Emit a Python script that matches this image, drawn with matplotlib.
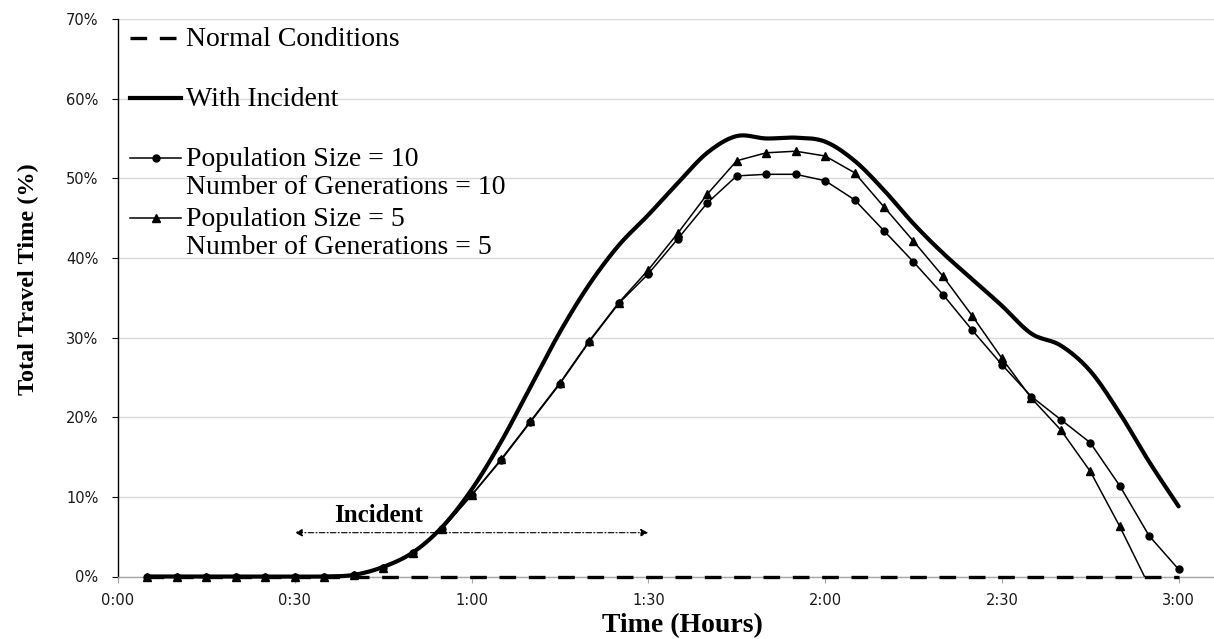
import numpy as np
import matplotlib
matplotlib.use("Agg")
import matplotlib.pyplot as plt
from matplotlib.lines import Line2D

# ---------------- data ----------------
minutes = list(range(5, 181, 5))  # 0:05 ... 3:00

normal = [0.0] * len(minutes)

with_incident = [0, 0, 0, 0, 0, 0, 0,
                 0.2, 1.2, 3.0, 6.2, 10.9, 16.9, 23.8, 30.7, 36.7, 41.6,
                 45.4, 49.4, 53.2, 55.3, 55.0, 55.1, 54.6, 52.2, 48.5,
                 44.3, 40.6, 37.3, 34.0, 30.5, 29.0, 25.8, 20.5, 14.4, 8.8]

pop10 = [0, 0, 0, 0, 0, 0, 0,
         0.2, 1.1, 2.9, 6.0, 10.2, 14.6, 19.4, 24.2, 29.5, 34.3,
         38.0, 42.4, 46.9, 50.3, 50.5, 50.5, 49.7, 47.3, 43.4,
         39.5, 35.4, 30.9, 26.6, 22.6, 19.7, 16.8, 11.4, 5.1, 0.9]

minutes_pop5 = list(range(5, 176, 5))  # 0:05 ... 2:55
pop5 = [0, 0, 0, 0, 0, 0, 0,
        0.2, 1.1, 2.9, 6.0, 10.2, 14.7, 19.5, 24.3, 29.6, 34.4,
        38.5, 43.1, 48.0, 52.2, 53.2, 53.4, 52.8, 50.7, 46.4,
        42.1, 37.7, 32.7, 27.4, 22.4, 18.4, 13.2, 6.3, -1.2]

x_ticks = [0, 30, 60, 90, 120, 150, 180]
x_ticklabels = ["0:00", "0:30", "1:00", "1:30", "2:00", "2:30", "3:00"]
y_ticks = [0, 10, 20, 30, 40, 50, 60, 70]
y_ticklabels = ["0%", "10%", "20%", "30%", "40%", "50%", "60%", "70%"]

incident_start, incident_end = 30, 90
incident_label = "Incident"

legend_labels = ["Normal Conditions", "With Incident",
                 "Population Size = 10", "Number of Generations = 10",
                 "Population Size = 5", "Number of Generations = 5"]


def smooth_curve(x, y, n=24):
    """Excel-like smoothed line (Catmull-Rom Bezier through the points)."""
    x = np.asarray(x, float)
    y = np.asarray(y, float)
    P = np.column_stack([x, y])
    out = []
    t = np.linspace(0, 1, n)[:, None]
    for i in range(len(P) - 1):
        p0 = P[i - 1] if i > 0 else P[i]
        p1 = P[i]
        p2 = P[i + 1]
        p3 = P[i + 2] if i + 2 < len(P) else P[i + 1]
        c1 = p1 + (p2 - p0) / 6.0
        c2 = p2 - (p3 - p1) / 6.0
        seg = ((1 - t) ** 3) * p1 + 3 * ((1 - t) ** 2) * t * c1 + \
            3 * (1 - t) * t ** 2 * c2 + t ** 3 * p2
        out.append(seg if i == 0 else seg[1:])
    arr = np.vstack(out)
    return arr[:, 0], arr[:, 1]


# ---------------- figure ----------------
W, H = 1214, 639
fig = plt.figure(figsize=(W / 100, H / 100), dpi=100)
ax = fig.add_axes([118 / W, (H - 576.5) / H, (W - 118) / W, 557.5 / H])

ax.set_xlim(0, 186)
ax.set_ylim(0, 70)

# grid & spines
ax.set_axisbelow(True)
ax.yaxis.grid(True, color="#d9d9d9", linewidth=1.0)
ax.xaxis.grid(False)
for s in ("top", "right"):
    ax.spines[s].set_visible(False)
ax.spines["left"].set_color("#000000")
ax.spines["left"].set_linewidth(1.0)
ax.spines["bottom"].set_color("#a6a6a6")
ax.spines["bottom"].set_linewidth(1.0)

ax.set_xticks(x_ticks)
ax.set_xticklabels(x_ticklabels)
ax.set_yticks(y_ticks)
ax.set_yticklabels(y_ticklabels)
ax.tick_params(axis="x", length=4, color="#a6a6a6", pad=8,
               labelsize=10.5, labelcolor="#1a1a1a")
ax.tick_params(axis="y", length=4, color="#000000", pad=10,
               labelsize=10.5, labelcolor="#1a1a1a")
for lab in ax.get_xticklabels() + ax.get_yticklabels():
    lab.set_family("DejaVu Sans")

# ---------------- series ----------------
ax.plot(minutes, normal, color="black", linewidth=2.4,
        dashes=(5, 3.8), zorder=3, clip_on=False)

ax.plot(minutes, pop10, color="black", linewidth=1.1, marker="o",
        markersize=5, zorder=4, clip_on=False)

ax.plot(minutes_pop5, pop5, color="black", linewidth=1.1, zorder=4)
m5 = np.array(pop5) >= 0
ax.plot(np.array(minutes_pop5)[m5], np.array(pop5)[m5], linestyle="none",
        color="black", marker="^", markersize=6, zorder=4, clip_on=False)

sx, sy = smooth_curve(minutes, with_incident)
ax.plot(sx, sy, color="black", linewidth=3.0, solid_capstyle="round",
        zorder=5, clip_on=False)

# ---------------- incident annotation ----------------
ax.annotate("", xy=(incident_start, 5.5), xytext=(incident_end, 5.5),
            arrowprops=dict(arrowstyle="<|-|>", color="black", lw=0.8,
                            linestyle=(0, (5, 2, 1, 2)),
                            mutation_scale=11, shrinkA=0, shrinkB=0))
ax.text((incident_start + incident_end) / 2 - 15.8, 7.6, incident_label,
        fontsize=18, fontweight="bold", family="Liberation Serif",
        ha="center", va="center")

# ---------------- legend (drawn manually) ----------------
ax_h = 557.5


def ay(ypix):
    return (576.5 - ypix) / ax_h


lx0, lx1, ltext = 12 / 1096, 63 / 1096, 68 / 1096
leg_font = dict(fontsize=20, family="Liberation Serif", va="baseline",
                ha="left", transform=ax.transAxes)
entries = [
    (38, dict(color="black", lw=2.4, dashes=(5, 3.8)), None),
    (98, dict(color="black", lw=3.0), None),
    (158, dict(color="black", lw=1.1), "o"),
    (218, dict(color="black", lw=1.1), "^"),
]
for (yy, style, mk) in entries:
    ax.add_line(Line2D([lx0, lx1], [ay(yy), ay(yy)], transform=ax.transAxes,
                       clip_on=False, **style))
    if mk:
        ax.add_line(Line2D([(lx0 + lx1) / 2], [ay(yy)], transform=ax.transAxes,
                           marker=mk, markersize=5 if mk == "o" else 6,
                           color="black", linestyle="none", clip_on=False))

text_rows = [38, 98, 158, 186, 218, 246]
for lab, yy in zip(legend_labels, text_rows):
    ax.text(ltext, ay(yy + 7.5), lab, **leg_font)

# ---------------- axis titles ----------------
fig.text(28 / W, (H - 279) / H, "Total Travel Time (%)", rotation=90,
         fontsize=17.5, fontweight="bold", family="Liberation Serif",
         ha="center", va="center")
fig.text(682 / W, (H - 626) / H, "Time (Hours)", fontsize=20,
         fontweight="bold", family="Liberation Serif", ha="center",
         va="center")

fig.savefig("out.png", dpi=100)
